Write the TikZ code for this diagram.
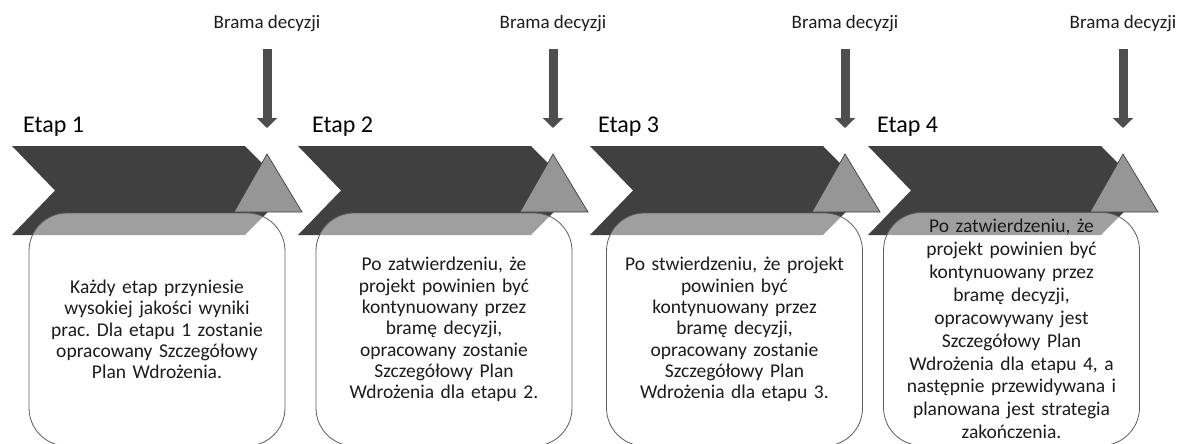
\documentclass[tikz,border=0pt]{standalone}
\usepackage{fontspec}
\setmainfont{Carlito}
\frenchspacing
\usetikzlibrary{arrows.meta}
\definecolor{chev}{HTML}{404040}
\definecolor{tri}{HTML}{969696}
\definecolor{edge}{HTML}{5C5C5C}
\definecolor{gate}{HTML}{4E4E4E}
\definecolor{ink}{HTML}{1C1C1C}
\begin{document}
\begin{tikzpicture}[x=1pt,y=-1pt,
  chevron/.style={fill=chev},
  gatetri/.style={fill=tri,draw=chev,line width=0.7pt,line join=miter},
  card/.style={draw=edge,line width=0.8pt,fill=white,fill opacity=0.5,text opacity=1,
    rounded corners=38pt,minimum width=256pt,minimum height=233pt,
    text width=250pt,align=center,inner sep=0pt,text=ink},
  cardtext/.style={font=\fontsize{19.5}{21.3}\selectfont},
  gatearrow/.style={draw=gate,line width=9pt,-{Triangle[width=20pt,length=10pt]}},
  gatelbl/.style={anchor=base,text=ink,font=\fontsize{19}{22}\selectfont,inner sep=0pt},
  stagelbl/.style={anchor=base west,text=black,font=\fontsize{24}{27}\selectfont,inner sep=0pt}]
\useasboundingbox (0,0) rectangle (1180,444);

% chevrons, gate triangles and decision-gate arrows
\foreach \x/\n in {12/1,298/2,590/3,868/4}{
  \fill[chevron] (\x,146) -- (\x+233,146) -- (\x+277,190.5) -- (\x+233,235)
     -- (\x,235) -- (\x+43,190.5) -- cycle;
  \coordinate (apex\n) at (\x+255,154);
  \draw[gatetri] (apex\n) -- (\x+290,212) -- (\x+222,212) -- cycle;
  \node[gatelbl] (brama\n) at (\x+255,29) {Brama decyzji};
  \coordinate (gs\n) at (\x+255,49);
  \coordinate (ge\n) at (\x+255,128);
  \draw[gatearrow] (gs\n) -- (ge\n);
}

% stage titles
\node[stagelbl] (etap1) at (23,132) {Etap 1};
\node[stagelbl] (etap2) at (312,132) {Etap 2};
\node[stagelbl] (etap3) at (598,132) {Etap 3};
\node[stagelbl] (etap4) at (877,132) {Etap 4};

% description cards
\node[card,cardtext] (card1) at (157,329.5) {Każdy etap przyniesie\\ wysokiej jakości wyniki\\ prac. Dla etapu 1 zostanie\\ opracowany Szczegółowy\\ Plan Wdrożenia.};
\node[card,cardtext] (card2) at (444,329.5) {Po zatwierdzeniu, że\\ projekt powinien być\\ kontynuowany przez\\ bramę decyzji,\\ opracowany zostanie\\ Szczegółowy Plan\\ Wdrożenia dla etapu 2.};
\node[card,cardtext] (card3) at (734.5,329.5) {Po stwierdzeniu, że projekt\\ powinien być\\ kontynuowany przez\\ bramę decyzji,\\ opracowany zostanie\\ Szczegółowy Plan\\ Wdrożenia dla etapu 3.};
\node[card,font=\fontsize{19.5}{22.9}\selectfont] (card4) at (1011.5,329) {Po zatwierdzeniu, że\\ projekt powinien być\\ kontynuowany przez\\ bramę decyzji,\\ opracowywany jest\\ Szczegółowy Plan\\ Wdrożenia dla etapu 4, a\\ następnie przewidywana i\\ planowana jest strategia\\ zakończenia.};
\end{tikzpicture}
\end{document}
